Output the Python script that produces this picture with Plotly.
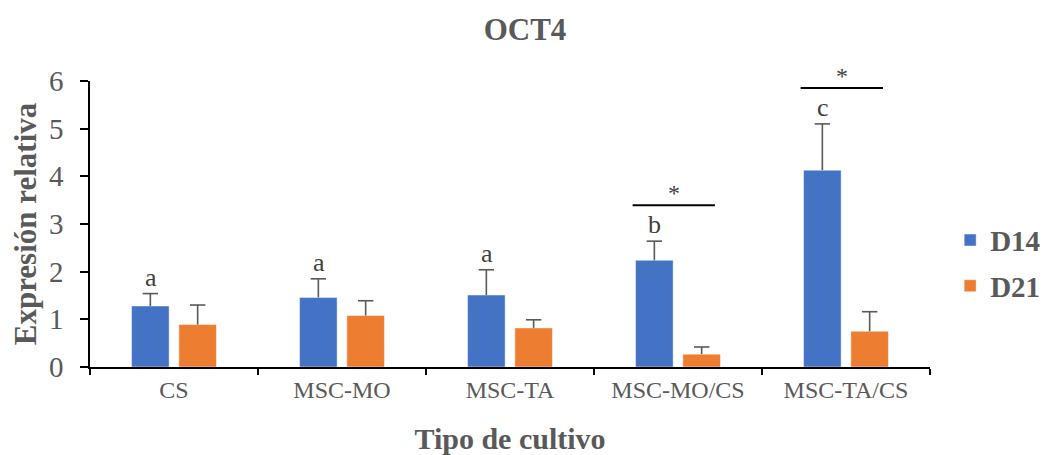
import plotly.graph_objects as go

categories = ["CS", "MSC-MO", "MSC-TA", "MSC-MO/CS", "MSC-TA/CS"]
d14_values = [1.28, 1.46, 1.51, 2.24, 4.13]
d14_errors = [0.26, 0.39, 0.53, 0.40, 0.97]
d21_values = [0.89, 1.08, 0.82, 0.27, 0.75]
d21_errors = [0.41, 0.31, 0.17, 0.15, 0.41]
d14_letters = ["a", "a", "a", "b", "c"]
significance = ["", "", "", "*", "*"]
y_ticks = [0, 1, 2, 3, 4, 5, 6]

BLUE = "#4472C4"
ORANGE = "#ED7D31"
GRAY = "#595959"
FONT = "Liberation Serif"
GAP = 0.437

# the page body adds an 8px margin, so the figure is 8px smaller each way
W, H = 1043, 447

fig = go.Figure()
for name, vals, errs, col in [("D14", d14_values, d14_errors, BLUE),
                              ("D21", d21_values, d21_errors, ORANGE)]:
    fig.add_trace(go.Bar(
        x=categories, y=vals, name="<b>" + name + "</b>", marker_color=col,
        marker_line=dict(color="rgba(255,255,255,0.6)", width=0.8),
        legendgroup=name, offsetgroup=name,
        error_y=dict(type="data", symmetric=False, array=errs,
                     arrayminus=[0] * len(errs), color=GRAY,
                     thickness=1.6, width=0),
    ))
# error-bar caps (upper only)
for name, vals, errs in [("D14", d14_values, d14_errors),
                         ("D21", d21_values, d21_errors)]:
    fig.add_trace(go.Scatter(
        x=categories, y=[v + e for v, e in zip(vals, errs)],
        mode="markers", showlegend=False, hoverinfo="skip",
        offsetgroup=name, legendgroup=name,
        marker=dict(symbol="line-ew", size=11, color=GRAY,
                    line=dict(color=GRAY, width=1.6)),
        cliponaxis=False,
    ))

# letters above D14 bars
for i, (v, e, lab) in enumerate(zip(d14_values, d14_errors, d14_letters)):
    fig.add_annotation(x=i, y=v + e, text=lab, showarrow=False,
                       xshift=-23.5, yanchor="bottom", yshift=0,
                       font=dict(family=FONT, size=26, color="#404040"))

# significance lines and stars
for i, s in enumerate(significance):
    if not s:
        continue
    top = d14_values[i] + d14_errors[i]
    fig.add_shape(type="line", xref="x", yref="y",
                  x0=i - 0.27, x1=i + 0.22,
                  ysizemode="pixel", yanchor=top, y0=36, y1=36,
                  line=dict(color="black", width=2))
    fig.add_annotation(x=i - 0.025, y=top, text=s, showarrow=False,
                       yanchor="bottom", yshift=33,
                       font=dict(family=FONT, size=24, color="#404040"))

fig.update_layout(
    width=W, height=H,
    margin=dict(l=82, r=121, t=73, b=88, autoexpand=False),
    paper_bgcolor="white", plot_bgcolor="white",
    barmode="group", bargap=GAP, bargroupgap=0.205,
    scattermode="group", scattergap=GAP,
    font=dict(family=FONT, color=GRAY),
    title=dict(text="<b>OCT4</b>", x=(525 - 8) / W, xref="container",
               xanchor="center",
               y=1 - 21 / H, yref="container", yanchor="middle",
               font=dict(family=FONT, size=31, color=GRAY)),
    legend=dict(x=1.024, xanchor="left", y=0.363, yanchor="middle",
                traceorder="grouped", tracegroupgap=5,
                font=dict(family=FONT, size=29, color=GRAY),
                bgcolor="rgba(0,0,0,0)"),
    showlegend=True,
)

fig.update_xaxes(
    automargin=False,
    showline=True, linecolor="black", linewidth=1.5,
    ticks="outside", tickson="boundaries", ticklen=6, tickcolor="black",
    tickwidth=1.5,
    tickfont=dict(family=FONT, size=24, color=GRAY),
    title=dict(text="<b>Tipo de cultivo</b>", standoff=26,
               font=dict(family=FONT, size=30, color=GRAY)),
    showgrid=False,
)
fig.update_yaxes(
    automargin=False,
    range=[0, 6], tickvals=y_ticks, showline=True, linecolor="black",
    linewidth=1.5, ticks="outside", ticklen=8, tickcolor="black",
    tickwidth=1.5, ticklabelstandoff=11,
    tickfont=dict(family=FONT, size=29, color=GRAY),
    title=dict(text="<b>Expresión relativa</b>", standoff=3,
               font=dict(family=FONT, size=31, color=GRAY)),
    showgrid=False, zeroline=False,
)

fig.write_html("out.html")
